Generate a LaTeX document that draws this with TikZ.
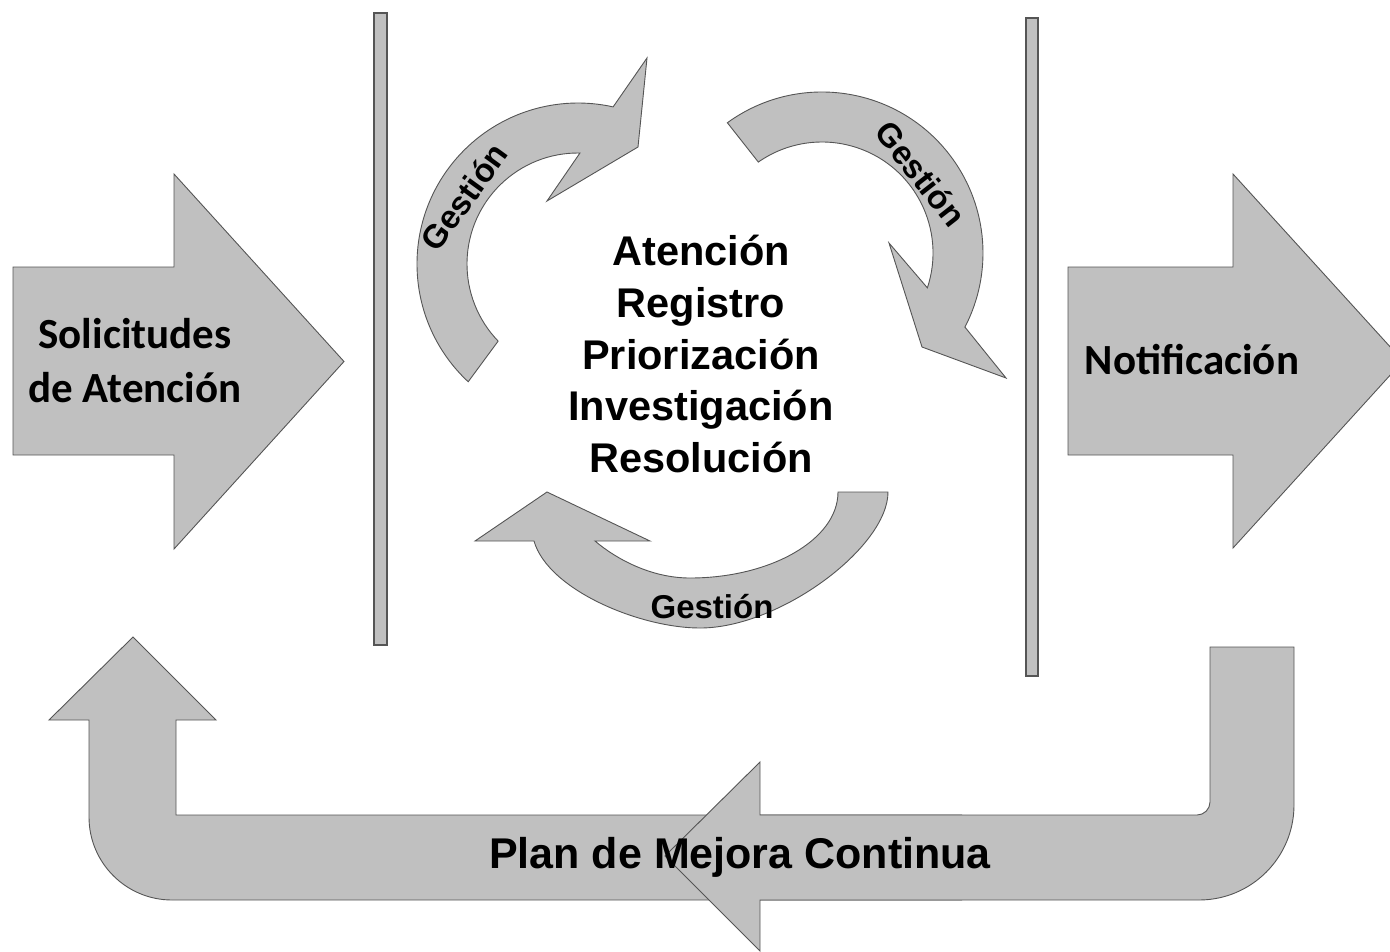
\documentclass[tikz,border=0pt]{standalone}
\usepackage{fontspec}
\setmainfont{Liberation Sans}
\newfontfamily\calibri{Carlito}
\usetikzlibrary{calc}
\definecolor{shapefill}{RGB}{192,192,192}
\definecolor{edgecol}{RGB}{85,85,85}
\begin{document}
\begin{tikzpicture}[x=1pt,y=1pt,yscale=-1,
  grayshape/.style={fill=shapefill,draw=edgecol,line width=0.9pt,line join=miter},
  barshape/.style={fill=shapefill,draw=edgecol,line width=1.4pt},
  gest/.style={font=\bfseries\fontsize{33}{33}\selectfont,inner sep=0pt},
  bigtext/.style={inner sep=0pt,text=black}]
\useasboundingbox (0,0) rectangle (1390,951);
\clip (0,0) rectangle (1390,951);

% left input arrow
\draw[grayshape] (13,267) -- (174,267) -- (174,174) -- (344,361.5) -- (174,549) -- (174,455) -- (13,455) -- cycle;
% right output arrow
\draw[grayshape] (1068,267) -- (1233,267) -- (1233,174) -- (1403,361) -- (1233,548) -- (1233,455) -- (1068,455) -- cycle;

% vertical bars
\draw[barshape] (374,13) rectangle (387,645);
\draw[barshape] (1026,18) rectangle (1038,676);

% U-shaped return arrow
\draw[grayshape] (133,637) -- (216,720) -- (176,720) -- (176,815) -- (1197,815)
  arc[start angle=90,end angle=0,radius=13pt] -- (1210,647) -- (1294,647) -- (1294,805)
  arc[start angle=0,end angle=90,radius=95pt] -- (172,900)
  arc[start angle=90,end angle=180,radius=83pt] -- (89,720) -- (49,720) -- cycle;

% left-pointing arrow over the bottom band
\fill[shapefill] (962,815) -- (760,815) -- (760,762) -- (665,856) -- (760,951) -- (760,900) -- (962,900) -- cycle;
\draw[draw=edgecol,line width=0.9pt] (962,815) -- (760,815) -- (760,762) -- (665,856) -- (760,951) -- (760,900) -- (962,900);

% curved arrow 1 (top left)
\draw[grayshape] ($(578,264)+(133:161)$) arc[start angle=133,end angle=282.6,radius=161pt]
  -- (647,58) -- (638,147) -- (547,201) -- ($(578,264)+(271:111)$)
  arc[start angle=271,end angle=136,radius=111pt] -- cycle;

% curved arrow 2 (top right)
\draw[grayshape] ($(822,253)+(234:161)$) arc[start angle=234,end angle=387.4,radius=161pt]
  -- (1006,378) -- (922,347) -- (889,243) -- ($(822,253)+(18.3:111)$)
  arc[start angle=378.3,end angle=235,radius=111pt] -- cycle;

% curved arrow 3 (bottom)
\draw[grayshape] (888,492) .. controls (888,547) and (780,628) .. (700,628)
  .. controls (640,628) and (548,590) .. (534,541)
  -- (475,541) -- (547,492) -- (650,541) -- (595,541)
  .. controls (615,558) and (650,578) .. (690,578)
  .. controls (770,578) and (838,540) .. (838,492) -- cycle;

% texts
\node[bigtext,font=\calibri\bfseries\fontsize{43}{54}\selectfont,align=center] (sol) at (135,361) {Solicitudes\\de Atención};
\node[bigtext,font=\calibri\bfseries\fontsize{43}{50}\selectfont,anchor=base] (notif) at (1192,374) {Notificación};
\node[bigtext,font=\bfseries\fontsize{41.5}{51.75}\selectfont,align=center] (proc) at (701,354) {Atención\\Registro\\Priorización\\Investigación\\Resolución};
\node[gest,rotate=54] (g1) at (464,197) {Gestión};
\node[gest,rotate=-52] (g2) at (921,174) {Gestión};
\node[gest,anchor=base] (g3) at (712,618) {Gestión};
\node[bigtext,font=\bfseries\fontsize{43}{43}\selectfont,anchor=base] (plan) at (740,868) {Plan de Mejora Continua};
\end{tikzpicture}
\end{document}
